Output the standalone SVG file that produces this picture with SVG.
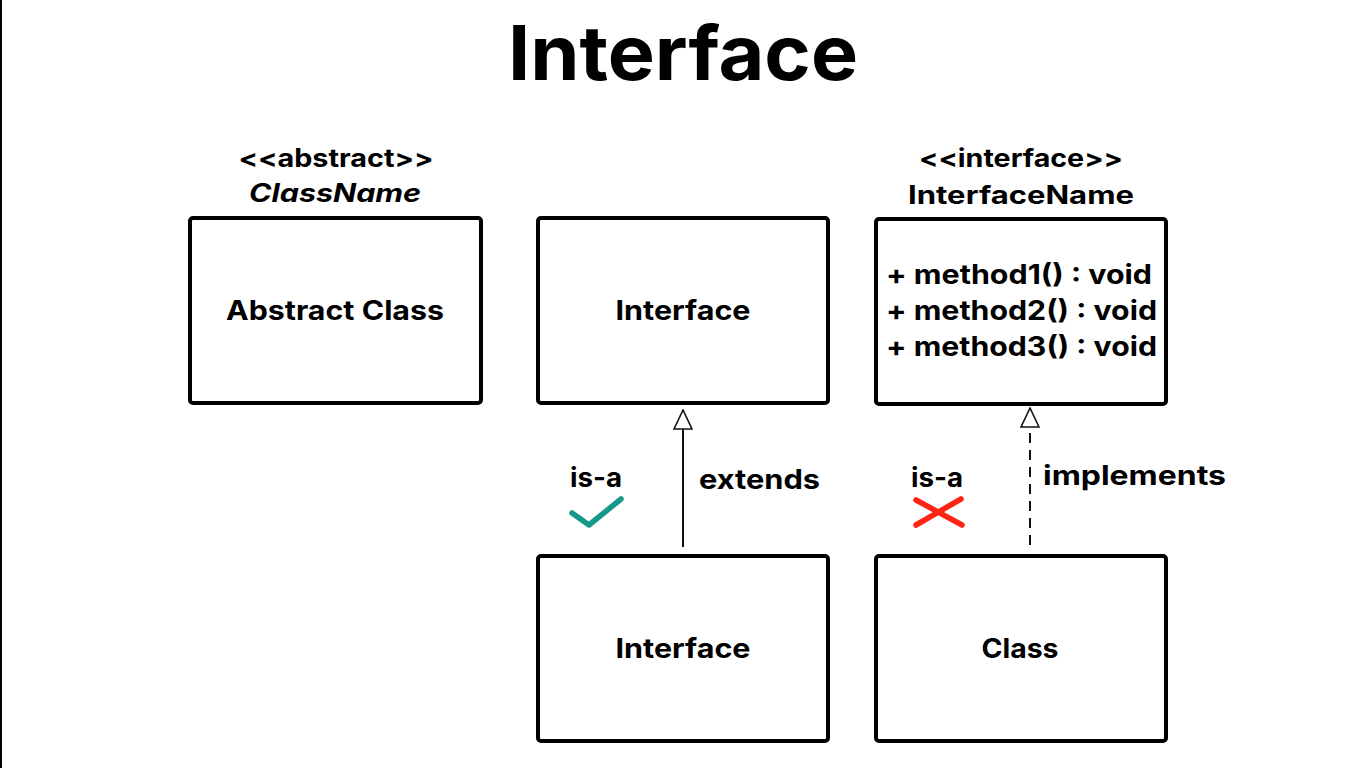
<svg xmlns="http://www.w3.org/2000/svg" width="1366" height="768" viewBox="0 0 1366 768">
<style>
text{font-family:Inter,"Open Sans","Liberation Sans",sans-serif;font-weight:700;fill:#000}
.box{fill:#fff;stroke:#000;stroke-width:4}
.lbl{font-size:27px;text-anchor:middle;dominant-baseline:central}
.st{font-size:25px;text-anchor:middle}
.conn{stroke:#111;stroke-width:2;fill:none}
</style>
<defs>
<marker id="tri" viewBox="0 0 21 20" refX="20" refY="10" markerWidth="21" markerHeight="20" markerUnits="userSpaceOnUse" orient="auto">
<path d="M20,10 L1,1 L1,19 Z" fill="#fff" stroke="#111" stroke-width="1.6"/>
</marker>
</defs>
<rect width="1366" height="768" fill="#fff"/>
<line x1="1" y1="0" x2="1" y2="768" stroke="#000" stroke-width="2"/>
<text x="683" y="80" font-size="76" text-anchor="middle" textLength="350" lengthAdjust="spacingAndGlyphs">Interface</text>

<g id="abstract-class">
<text class="st" x="336" y="167" textLength="195" lengthAdjust="spacingAndGlyphs">&lt;&lt;abstract&gt;&gt;</text>
<text class="st" x="335" y="202" font-size="27" font-style="italic" textLength="172" lengthAdjust="spacingAndGlyphs">ClassName</text>
<rect class="box" x="190" y="218" width="291" height="185" rx="3"/>
<text class="lbl" x="335" y="310" textLength="218" lengthAdjust="spacingAndGlyphs">Abstract Class</text>
</g>

<g id="interface-top">
<rect class="box" x="538" y="218" width="290" height="185" rx="3"/>
<text class="lbl" x="683" y="310" textLength="135" lengthAdjust="spacingAndGlyphs">Interface</text>
</g>

<g id="interface-name">
<text class="st" x="1021" y="167" textLength="204" lengthAdjust="spacingAndGlyphs">&lt;&lt;interface&gt;&gt;</text>
<text class="st" x="1021" y="204" font-size="27" textLength="226" lengthAdjust="spacingAndGlyphs">InterfaceName</text>
<rect class="box" x="876" y="219" width="290" height="185" rx="3"/>
<text x="886" y="284" font-size="27" textLength="266" lengthAdjust="spacingAndGlyphs">+ method1() : void</text>
<text x="886" y="320" font-size="27" textLength="271" lengthAdjust="spacingAndGlyphs">+ method2() : void</text>
<text x="886" y="356" font-size="27" textLength="271" lengthAdjust="spacingAndGlyphs">+ method3() : void</text>
</g>

<g id="interface-bottom">
<rect class="box" x="538" y="556" width="290" height="185" rx="3"/>
<text class="lbl" x="683" y="648" textLength="135" lengthAdjust="spacingAndGlyphs">Interface</text>
</g>

<g id="class">
<rect class="box" x="876" y="556" width="290" height="185" rx="3"/>
<text class="lbl" x="1020" y="648" textLength="77" lengthAdjust="spacingAndGlyphs">Class</text>
</g>

<g id="connectors">
<line class="conn" x1="683" y1="547" x2="683" y2="410" marker-end="url(#tri)"/>
<line class="conn" x1="1030" y1="545" x2="1030" y2="408" stroke-dasharray="10,7" marker-end="url(#tri)"/>
<text x="570" y="487" font-size="27" textLength="52" lengthAdjust="spacingAndGlyphs">is-a</text>
<text x="699" y="489" font-size="27" textLength="121" lengthAdjust="spacingAndGlyphs">extends</text>
<text x="911" y="487" font-size="27" textLength="52" lengthAdjust="spacingAndGlyphs">is-a</text>
<text x="1043" y="485" font-size="27" textLength="183" lengthAdjust="spacingAndGlyphs">implements</text>
<polyline points="572,513 589,525 621,499" fill="none" stroke="#17998a" stroke-width="5.5" stroke-linecap="round" stroke-linejoin="round"/>
<g stroke="#ff2414" stroke-width="5.5" stroke-linecap="round">
<line x1="916" y1="500" x2="962" y2="525"/>
<line x1="961" y1="499" x2="916" y2="525"/>
</g>
</g>
</svg>
